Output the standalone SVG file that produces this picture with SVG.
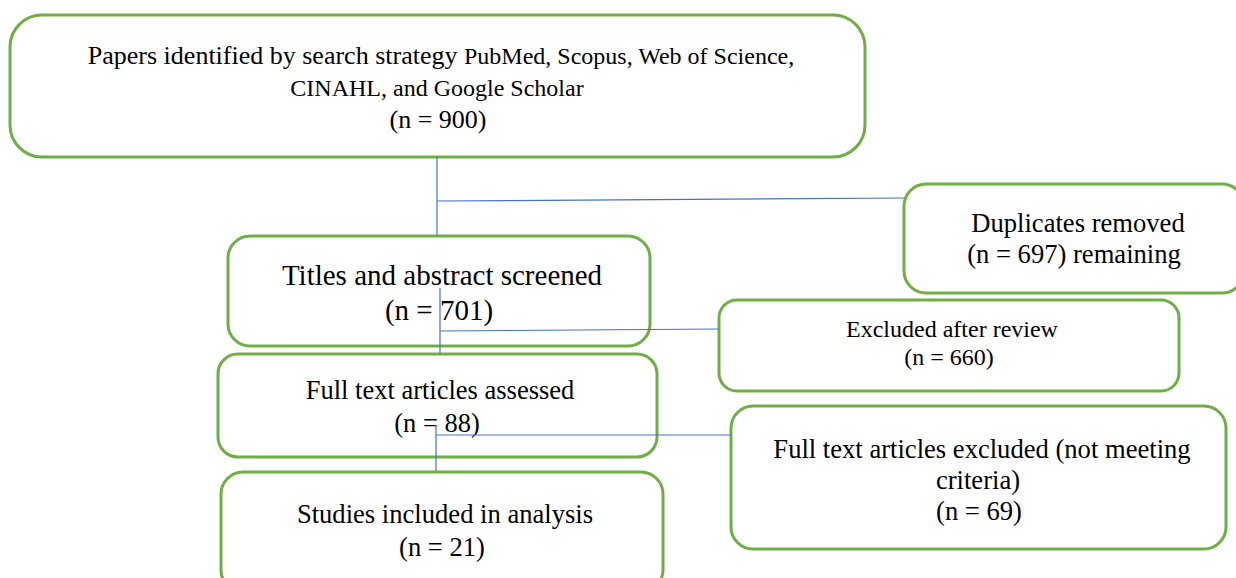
<svg xmlns="http://www.w3.org/2000/svg" width="1236" height="578" viewBox="0 0 1236 578">
<style>
.box{fill:#fff;stroke:#70AD47;stroke-width:3}
.t{font-family:"Liberation Serif","Times New Roman",serif;fill:#000;text-anchor:middle}
.c{stroke:#4472C4;stroke-width:1.2;fill:none}
</style>
<rect width="1236" height="578" fill="#fff"/>
<g id="n1">
<rect class="box" x="10" y="15" width="855" height="142" rx="32"/>
<text class="t" x="441" y="64" font-size="26">Papers identified by search strategy <tspan font-size="24">PubMed, Scopus, Web of Science,</tspan></text>
<text class="t" x="437" y="96" font-size="24">CINAHL, and Google Scholar</text>
<text class="t" x="438" y="128" font-size="26">(n = 900)</text>
</g>
<g id="n2">
<rect class="box" x="904" y="184" width="340" height="109" rx="22"/>
<text class="t" x="1078" y="232" font-size="26.6">Duplicates removed</text>
<text class="t" x="1074" y="263" font-size="26.6">(n = 697) remaining</text>
</g>
<g id="n3">
<rect class="box" x="228" y="236" width="422" height="110" rx="22"/>
<text class="t" x="442" y="285" font-size="29">Titles and abstract screened</text>
<text class="t" x="439" y="320" font-size="29">(n = 701)</text>
</g>
<g id="n4">
<rect class="box" x="719" y="300" width="460" height="91" rx="18"/>
<text class="t" x="952" y="337" font-size="24">Excluded after review</text>
<text class="t" x="949" y="365" font-size="24">(n = 660)</text>
</g>
<g id="n5">
<rect class="box" x="218" y="354" width="439" height="103" rx="20"/>
<text class="t" x="440" y="399" font-size="26.5">Full text articles assessed</text>
<text class="t" x="437" y="432" font-size="26.5">(n = 88)</text>
</g>
<g id="n6">
<rect class="box" x="731" y="406" width="495" height="143" rx="22"/>
<text class="t" x="982" y="458" font-size="26.6">Full text articles excluded (not meeting</text>
<text class="t" x="978" y="489" font-size="26.6">criteria)</text>
<text class="t" x="979" y="520" font-size="26.6">(n = 69)</text>
</g>
<g id="n7">
<rect class="box" x="221" y="472" width="442" height="120" rx="22"/>
<text class="t" x="445" y="523" font-size="26.6">Studies included in analysis</text>
<text class="t" x="442" y="556" font-size="26.6">(n = 21)</text>
</g>
<g id="connectors">
<line class="c" x1="437" y1="157" x2="437" y2="235"/>
<line class="c" x1="437" y1="201" x2="904" y2="198"/>
<line class="c" x1="440" y1="288" x2="440" y2="353"/>
<line class="c" x1="440" y1="331" x2="719" y2="329"/>
<line class="c" x1="436" y1="425" x2="436" y2="471"/>
<line class="c" x1="436" y1="435" x2="731" y2="435"/>
</g>
</svg>
